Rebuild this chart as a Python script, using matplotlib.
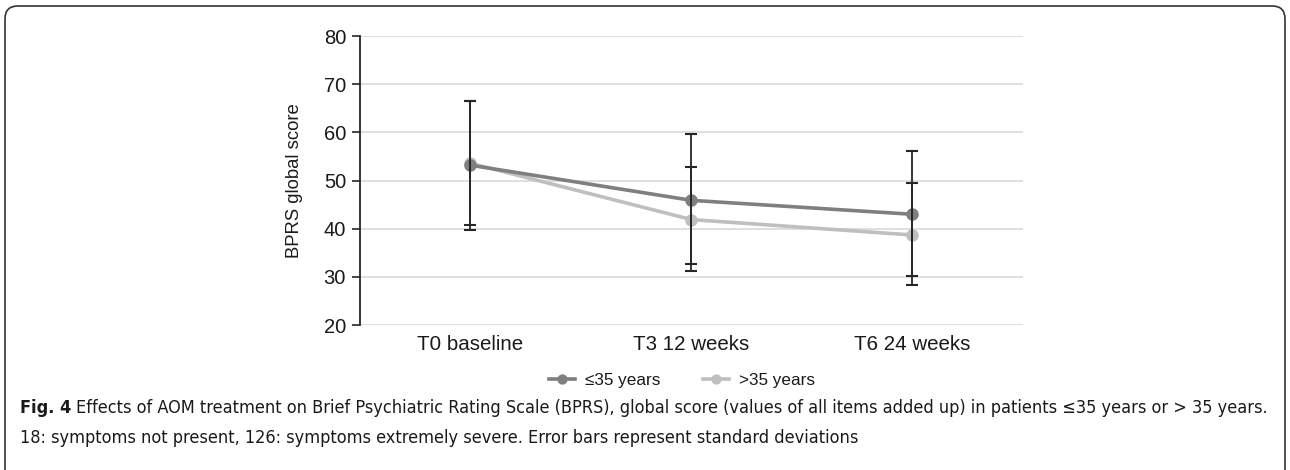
import matplotlib
matplotlib.use("Agg")
import matplotlib.pyplot as plt
from matplotlib.patches import FancyBboxPatch
import numpy as np

categories = ["T0 baseline", "T3 12 weeks", "T6 24 weeks"]
young_mean = [53.2, 45.9, 43.0]
young_upper = [66.6, 59.6, 56.1]
young_lower = [39.8, 32.7, 30.2]
old_mean = [53.6, 41.9, 38.7]
old_upper = [66.6, 52.8, 49.5]
old_lower = [40.7, 31.3, 28.4]
series_labels = ["\u226435 years", ">35 years"]
yticks = [20, 30, 40, 50, 60, 70, 80]

plt.rcParams["font.family"] = ["Liberation Sans", "DejaVu Sans"]

fig = plt.figure(figsize=(12.9, 4.7), dpi=100)
ax = fig.add_axes([0.279, 0.3085, 0.514, 0.6145])

x = np.arange(len(categories)) + 0.5
c_dark = "#7f7f7f"
c_light = "#bfbfbf"
for mean, lo, hi, col, lab, z in [(young_mean, young_lower, young_upper, c_dark, series_labels[0], 3),
                                   (old_mean, old_lower, old_upper, c_light, series_labels[1], 2)]:
    mean = np.array(mean); lo = np.array(lo); hi = np.array(hi)
    ax.plot(x, mean, color=col, lw=2.6, marker="o", ms=8, label=lab, zorder=z)
    ax.errorbar(x, mean, yerr=[mean - lo, hi - mean], fmt="none", ecolor="#262626",
                elinewidth=1.3, capsize=4, capthick=1.5, zorder=4)

ax.set_xlim(0, 3)
ax.set_ylim(20, 80)
ax.set_yticks(yticks)
ax.set_xticks(x)
ax.set_xticklabels(categories)
ax.grid(axis="y", color="#d9d9d9", lw=1.2)
ax.set_axisbelow(True)
for s in ["top", "right", "bottom"]:
    ax.spines[s].set_visible(False)
ax.spines["left"].set_color("#262626")
ax.spines["left"].set_linewidth(1.3)
ax.tick_params(axis="y", length=6, width=1.2, color="#262626", labelsize=14.5, labelcolor="#1a1a1a", pad=4)
ax.tick_params(axis="x", length=0, labelsize=14.8, labelcolor="#1a1a1a", pad=7)
ax.set_ylabel("BPRS global score", fontsize=13.3, color="#1a1a1a", labelpad=15)

leg = fig.legend(loc="center", bbox_to_anchor=(0.529, 0.19), ncol=2, frameon=False,
                 fontsize=12.3, handlelength=1.5, handletextpad=0.6, columnspacing=2.5, markerscale=0.8)
for t in leg.get_texts():
    t.set_color("#1a1a1a")

# frame
frame = FancyBboxPatch((5 / 1290, -0.05), 1280 / 1290, 1.05 - 6 / 470,
                       boxstyle="round,pad=0,rounding_size=0.01", transform=fig.transFigure,
                       fill=False, ec="#333333", lw=1.2, mutation_aspect=1290 / 470)
fig.patches.append(frame)

cap_kw = dict(fontsize=13.0, color="#1a1a1a", fontstretch="condensed", family="DejaVu Sans")
t1 = fig.text(20 / 1290, 1 - 408 / 470, "Fig. 4", fontweight="bold", va="center", **cap_kw)
fig.canvas.draw()
bb = t1.get_window_extent()
fig.text((bb.x1 + 5) / 1290, 1 - 408 / 470,
         "Effects of AOM treatment on Brief Psychiatric Rating Scale (BPRS), global score (values of all items added up) in patients \u226435 years or > 35 years.",
         va="center", **cap_kw)
fig.text(20 / 1290, 1 - 438 / 470,
         "18: symptoms not present, 126: symptoms extremely severe. Error bars represent standard deviations",
         va="center", **cap_kw)

fig.savefig("out.png", dpi=100)
